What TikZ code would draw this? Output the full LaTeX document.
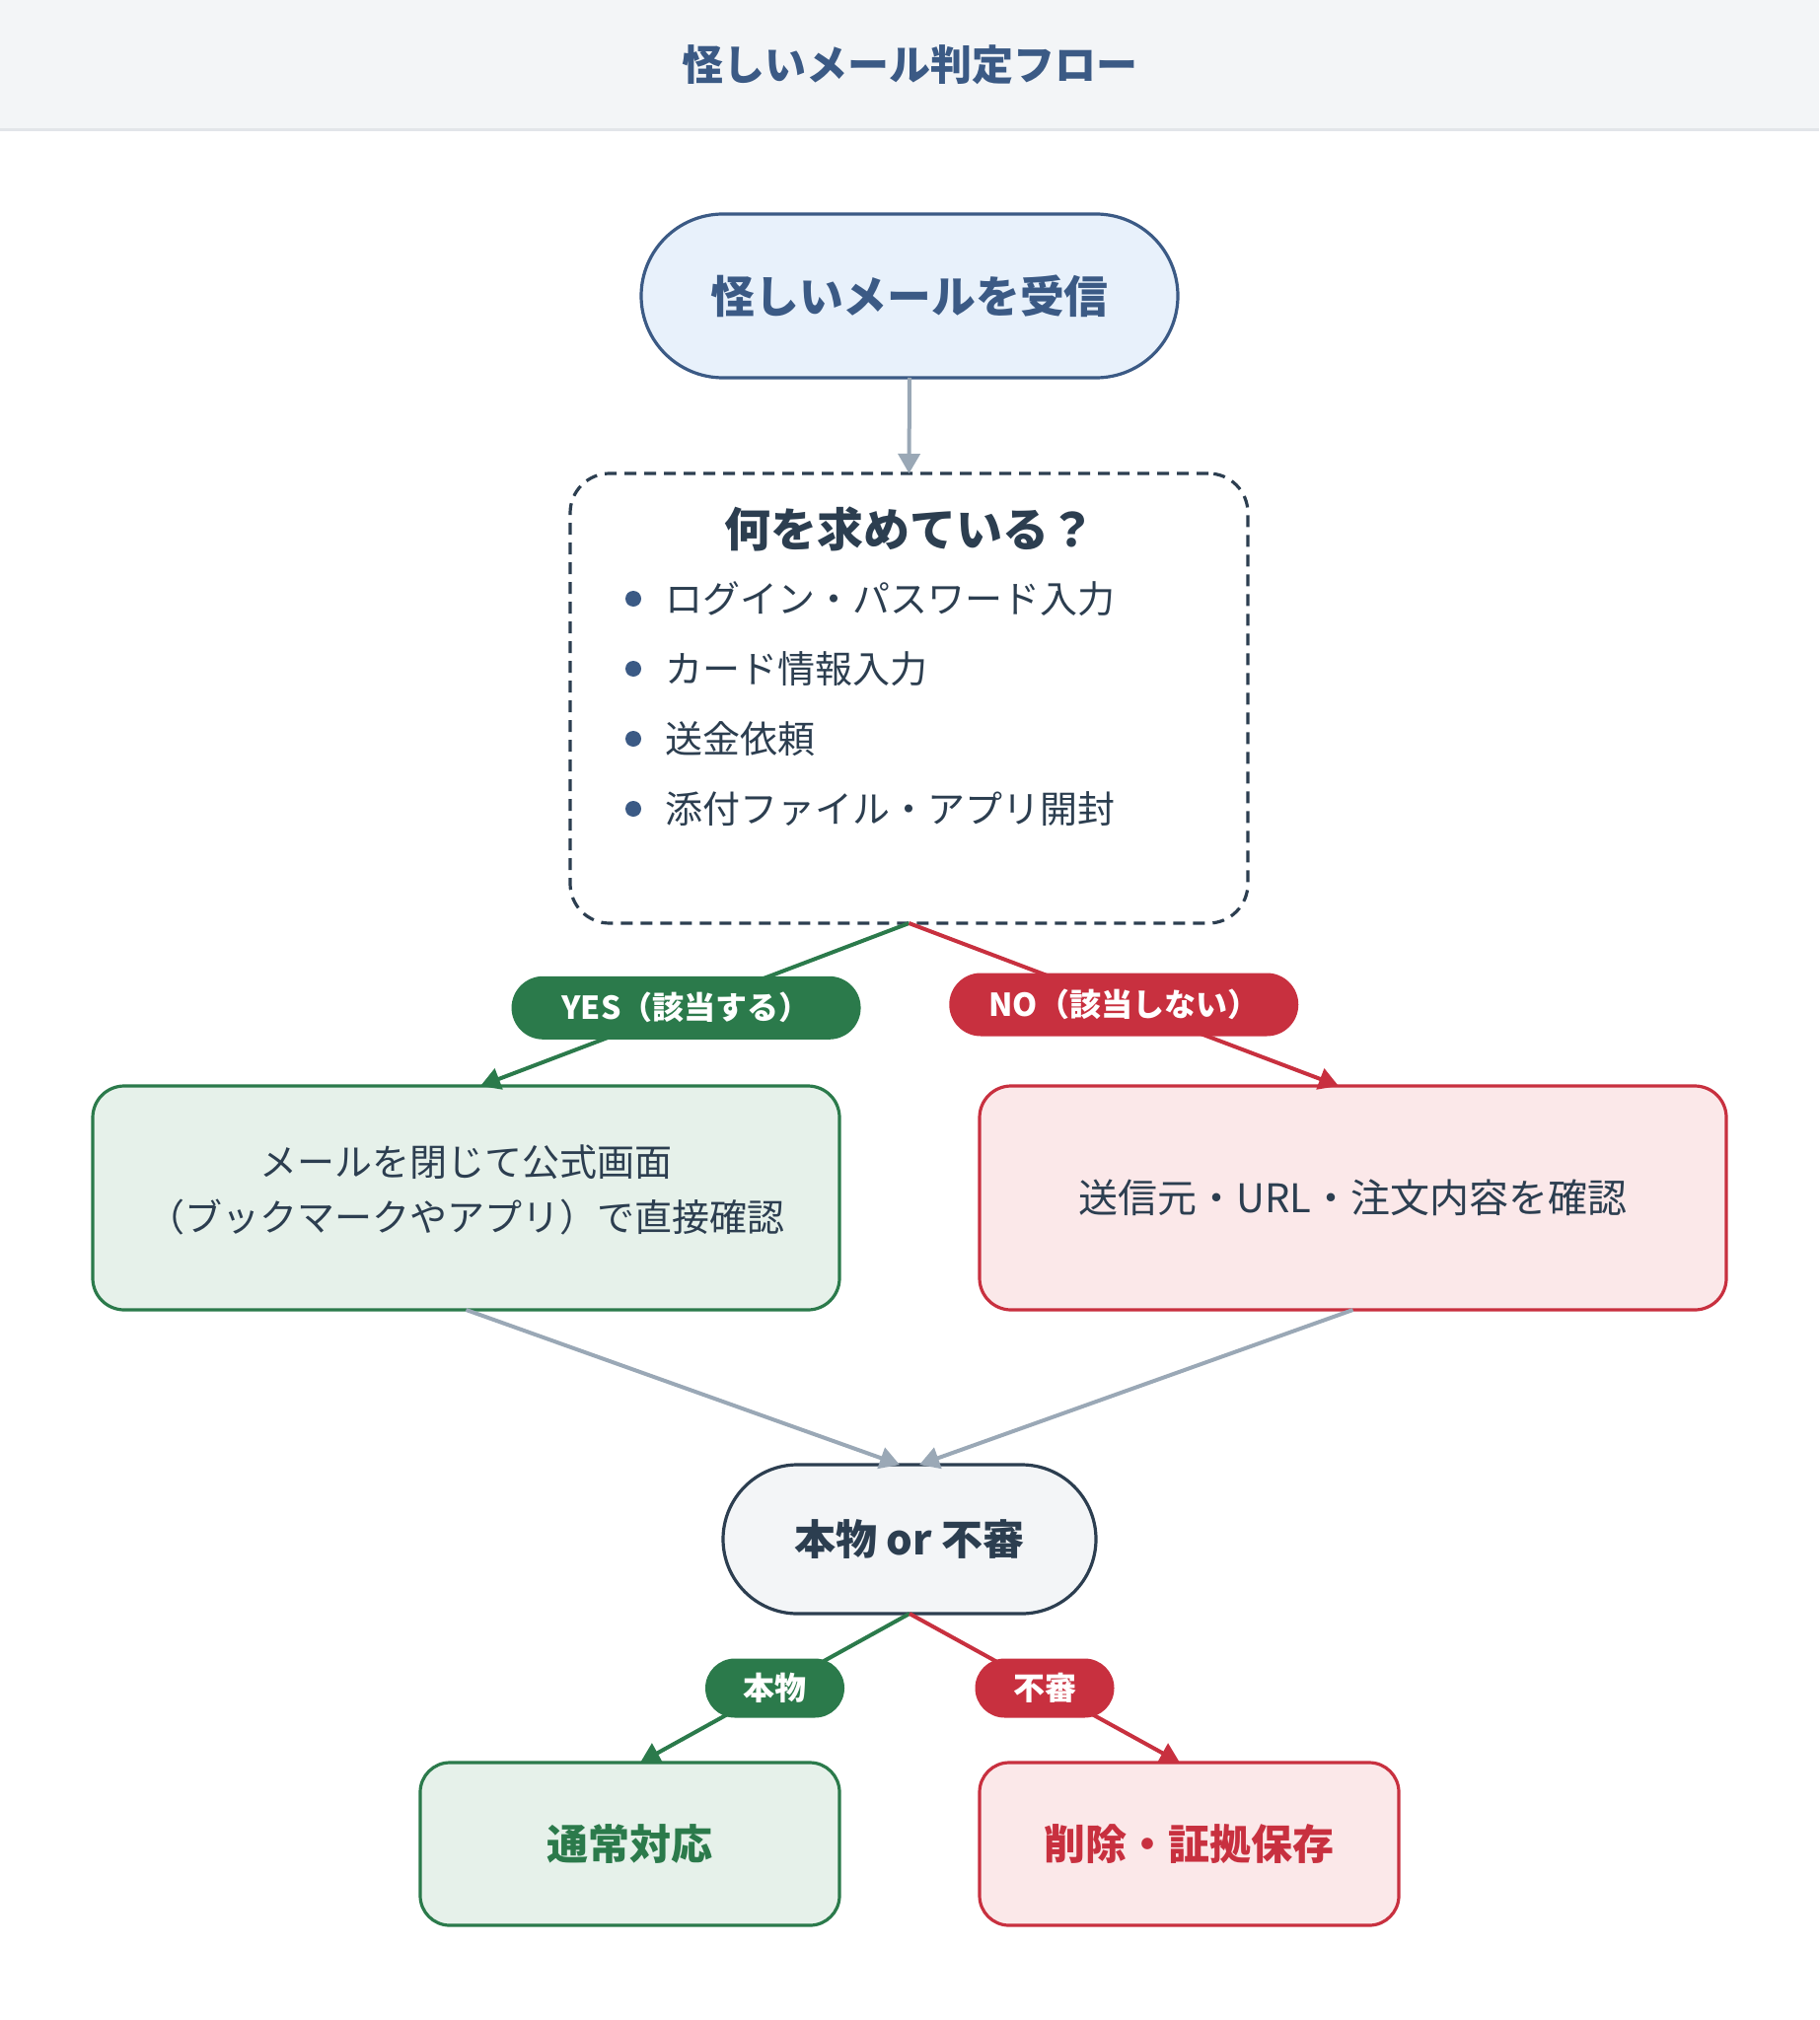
\documentclass[tikz,border=0pt]{standalone}
\usepackage{fontspec}
\setmainfont{Noto Sans CJK JP}
\usetikzlibrary{arrows.meta,calc,shapes.misc}
\definecolor{hdrbg}{HTML}{F3F5F7}
\definecolor{hdrln}{HTML}{E2E5E9}
\definecolor{slate}{HTML}{3B5A85}
\definecolor{startbg}{HTML}{E8F1FB}
\definecolor{arrgray}{HTML}{9AA8B6}
\definecolor{ink}{HTML}{2C3E50}
\definecolor{grn}{HTML}{2B7A4B}
\definecolor{grnbg}{HTML}{E6F1EA}
\definecolor{rd}{HTML}{C8303F}
\definecolor{rdbg}{HTML}{FBE8E9}
\definecolor{decbg}{HTML}{F3F5F7}
\begin{document}
\begin{tikzpicture}[x=0.5pt,y=-0.5pt,
  every node/.style={inner sep=0pt, outer sep=0pt},
  hdrtitle/.style={font=\bfseries\fontsize{21pt}{25pt}\selectfont, text=slate},
  startnode/.style={rounded rectangle, draw=slate, fill=startbg, line width=1.6pt,
    minimum width=272pt, minimum height=83pt,
    font=\bfseries\fontsize{22.4pt}{26pt}\selectfont, text=slate},
  askbox/.style={draw=ink, dash pattern=on 6pt off 4pt, line width=1.6pt,
    rounded corners=20pt, minimum width=343.5pt, minimum height=228pt},
  asktitle/.style={font=\bfseries\fontsize{23.5pt}{27pt}\selectfont, text=ink},
  itemtext/.style={anchor=west, font=\fontsize{19pt}{22pt}\selectfont, text=ink},
  bulletdot/.style={circle, fill=slate, minimum size=8pt},
  yesbox/.style={draw=grn, fill=grnbg, line width=1.6pt, rounded corners=16pt,
    minimum width=378.5pt, minimum height=113.5pt},
  nobox/.style={yesbox, draw=rd, fill=rdbg, font=\fontsize{20pt}{24pt}\selectfont, text=ink},
  boxtext/.style={align=center, font=\fontsize{19pt}{28pt}\selectfont, text=ink},
  decision/.style={rounded rectangle, draw=ink, fill=decbg, line width=1.6pt,
    minimum width=189pt, minimum height=75.5pt,
    font=\bfseries\fontsize{21pt}{25pt}\selectfont, text=ink},
  okbox/.style={draw=grn, fill=grnbg, line width=1.6pt, rounded corners=15pt,
    minimum width=212.5pt, minimum height=82.5pt,
    font=\bfseries\fontsize{21pt}{25pt}\selectfont, text=grn},
  badbox/.style={okbox, draw=rd, fill=rdbg, text=rd},
  biglbl/.style={rounded rectangle, text=white, minimum width=177pt, minimum height=32pt,
    font=\bfseries\fontsize{16pt}{18pt}\selectfont},
  smalllbl/.style={rounded rectangle, text=white, minimum width=70.5pt, minimum height=30pt,
    font=\bfseries\fontsize{16pt}{18pt}\selectfont},
  tip/.style={-{Triangle[length=10pt,width=11pt]}},
  garrow/.style={draw=arrgray, line width=2pt, tip},
  gline/.style={draw=grn, line width=2pt, tip},
  rline/.style={draw=rd, line width=2pt, tip}
]
\useasboundingbox (0,0) rectangle (1844,2048);
\fill[white] (0,0) rectangle (1844,2048);
\fill[hdrbg] (0,0) rectangle (1844,132);
\draw[hdrln, line width=1.5pt] (0,132) -- (1844,132);
\node[hdrtitle] (title) at (922,66) {怪しいメール判定フロー};

\node[startnode] (start) at (922,300) {怪しいメールを受信};
\node[askbox] (ask) at (921.5,708) {};
\node[asktitle] (askt) at (922,536) {何を求めている？};
\node[bulletdot] (b1) at (642,607) {};
\node[bulletdot] (b2) at (642,678) {};
\node[bulletdot] (b3) at (642,749) {};
\node[bulletdot] (b4) at (642,820) {};
\node[itemtext] (i1) at (674,607) {ログイン・パスワード入力};
\node[itemtext] (i2) at (674,678) {カード情報入力};
\node[itemtext] (i3) at (674,749) {送金依頼};
\node[itemtext] (i4) at (674,820) {添付ファイル・アプリ開封};

\node[yesbox] (yes) at (472.5,1214.5) {};
\node[boxtext] (yest) at (472.5,1206) {メールを閉じて公式画面\\（ブックマークやアプリ）で直接確認};
\node[nobox] (no) at (1371.5,1214.5) {送信元・URL・注文内容を確認};
\node[decision] (dec) at (922,1560.5) {本物 or 不審};
\node[okbox] (ok) at (638.5,1869.5) {通常対応};
\node[badbox] (bad) at (1205.5,1869.5) {削除・証拠保存};

\draw[garrow] (start.south) -- (ask.north);
\draw[gline] (ask.south) -- node[biglbl, fill=grn, pos=0.52] (yl) {YES（該当する）} ([xshift=7.25pt]yes.north);
\draw[rline] (ask.south) -- node[biglbl, fill=rd, pos=0.5] (nl) {NO（該当しない）} ([xshift=-7.25pt]no.north);
\draw[garrow] (yes.south) -- ([xshift=-5pt]dec.north);
\draw[garrow] (no.south) -- ([xshift=5pt]dec.north);
\draw[gline] (dec.south) -- node[smalllbl, fill=grn] (gl) {本物} ([xshift=5.25pt]ok.north);
\draw[rline] (dec.south) -- node[smalllbl, fill=rd] (bl) {不審} ([xshift=-4.75pt]bad.north);
\end{tikzpicture}
\end{document}
